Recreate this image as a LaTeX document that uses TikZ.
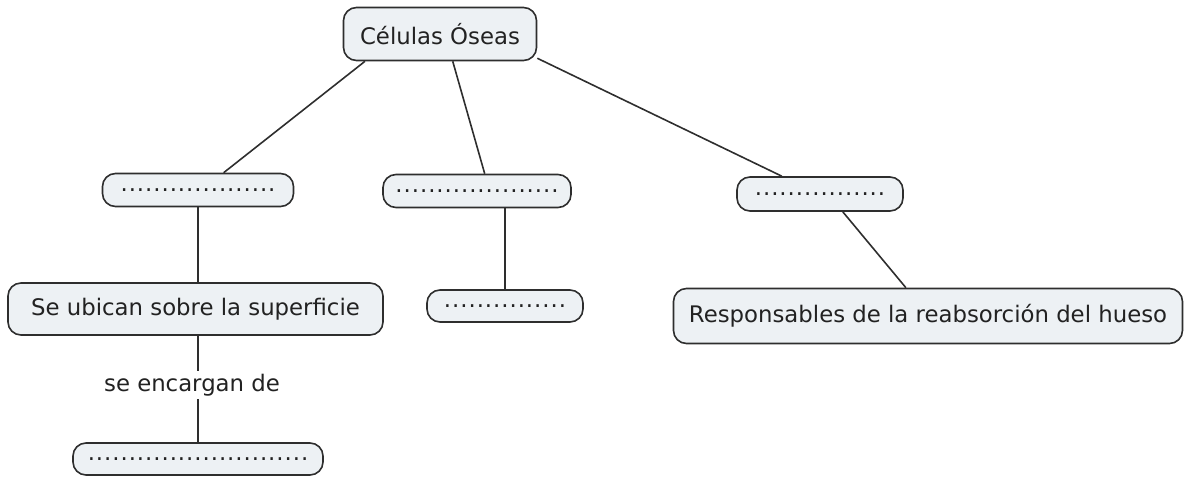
\documentclass[tikz,border=0pt]{standalone}
\usepackage{fontspec}
\setmainfont{DejaVu Sans}
\usetikzlibrary{positioning,calc}

\definecolor{cellfill}{HTML}{EDF1F4}
\definecolor{cellline}{HTML}{2E2E2E}
\definecolor{celltext}{HTML}{222222}

\newcommand{\dotrow}[1]{\foreach \i in {1,...,#1}{\makebox[8.2pt]{.}}}

\begin{document}
\begin{tikzpicture}[x=1pt,y=-1pt,
    concept/.style={draw=cellline,line width=1.6pt,rounded corners=13pt,fill=cellfill,
      text=celltext,font=\fontsize{22.8}{26}\selectfont,inner sep=0pt},
    link/.style={draw=cellline,line width=1.6pt},
    linktext/.style={text=celltext,font=\fontsize{22.8}{26}\selectfont,inner sep=3pt}]
  \useasboundingbox (0,0) rectangle (1192,477);

  \node[concept,minimum width=193pt,minimum height=53pt] (cel) at (440,34) {Células Óseas};

  \node[concept,minimum width=191pt,minimum height=33pt] (blastos) at (198,190) {\dotrow{19}};
  \node[concept,minimum width=188pt,minimum height=33pt] (citos) at (477,191) {\dotrow{20}};
  \node[concept,minimum width=166pt,minimum height=34pt] (clastos) at (820,194) {\dotrow{16}};

  \node[concept,minimum width=375pt,minimum height=52pt] (sup) at (195.5,309) {Se ubican sobre la superficie};
  \node[concept,minimum width=156pt,minimum height=32pt] (mid) at (505,306) {\dotrow{15}};
  \node[concept,minimum width=509pt,minimum height=55pt] (reab) at (928,316) {Responsables de la reabsorción del hueso};

  \node[linktext] (enc) at (192,385) {se encargan de};
  \node[concept,minimum width=250pt,minimum height=32pt] (fun) at (198,459) {\dotrow{27}};

  \draw[link] (cel.200) -- (blastos.34);
  \draw[link] (cel.295) -- (citos.66);
  \draw[link] (cel.346) -- (clastos.155);

  \draw[link] (blastos.south) -- (blastos.south |- sup.north);
  \draw[link] (mid.north |- citos.south) -- (mid.north);
  \draw[link] (clastos.322) -- (reab.128);

  \draw[link] (fun.north |- sup.south) -- (fun.north |- enc.north);
  \draw[link] (fun.north |- enc.south) -- (fun.north);
\end{tikzpicture}
\end{document}
